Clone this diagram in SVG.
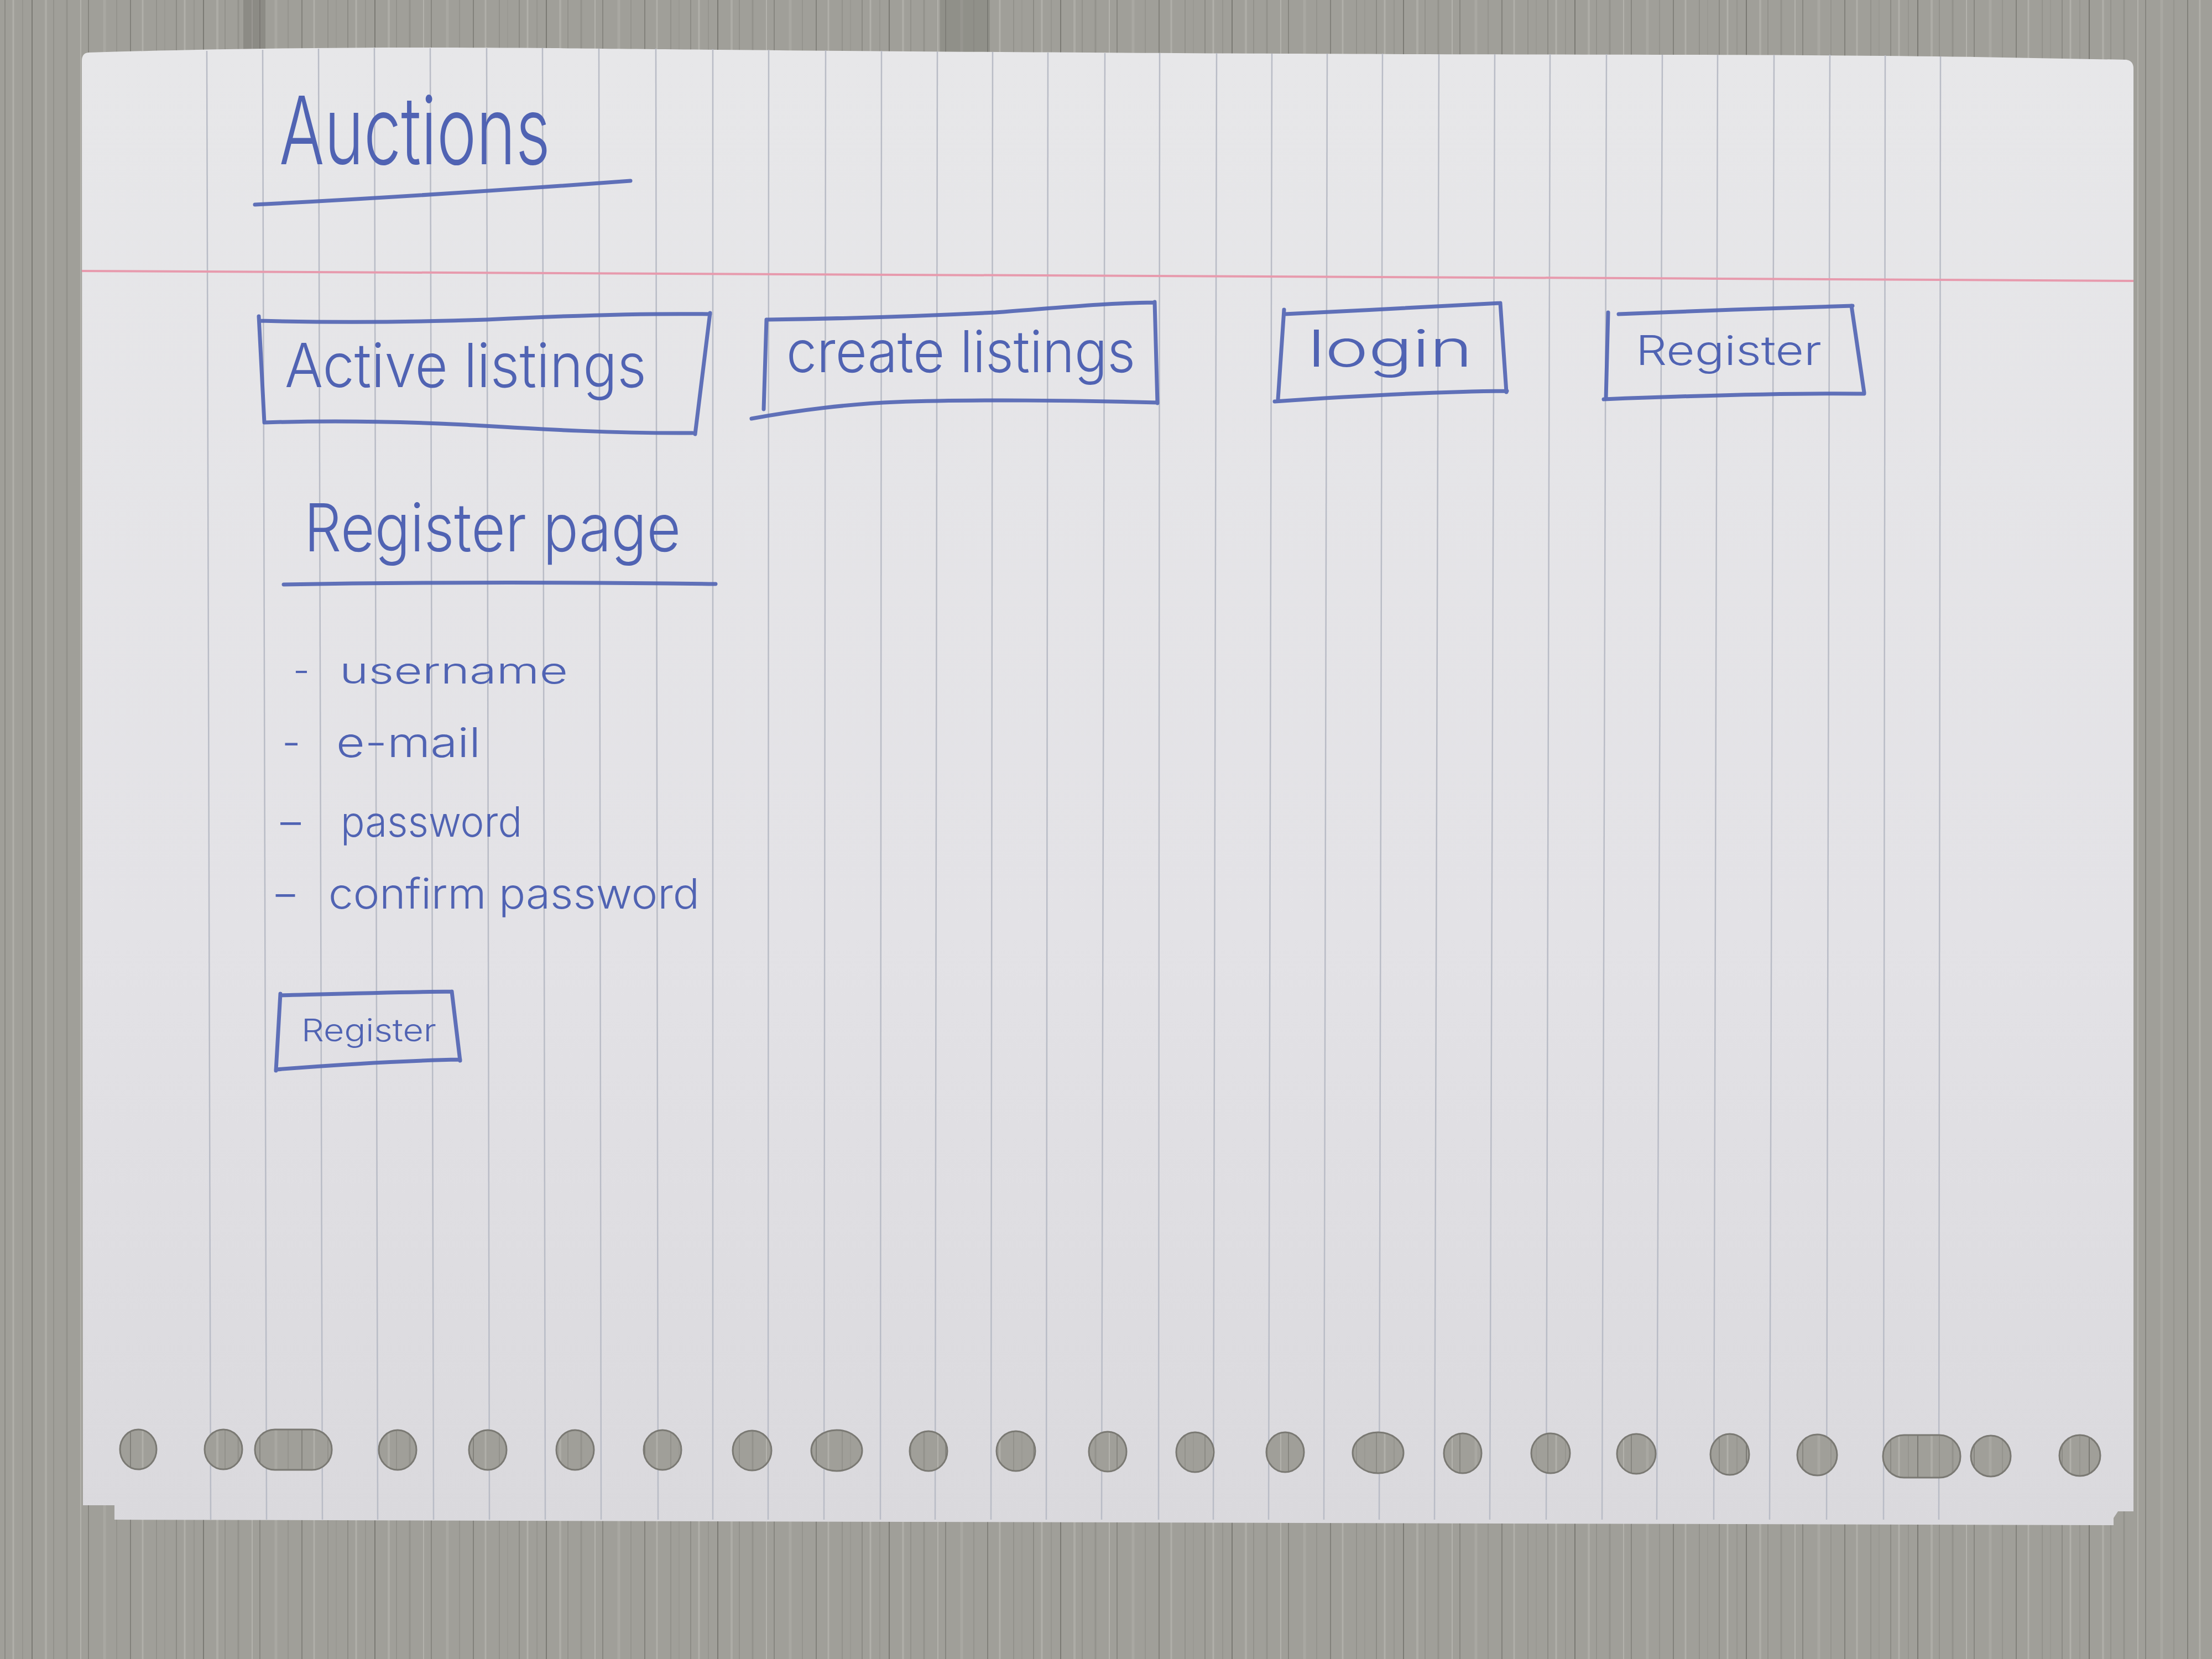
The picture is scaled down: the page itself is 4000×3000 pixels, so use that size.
<svg xmlns="http://www.w3.org/2000/svg" width="4000" height="3000" viewBox="0 0 4000 3000">
  <defs>
    <!-- grey wood grain of the table -->
    <pattern id="wood" x="0" y="0" width="310" height="3000" patternUnits="userSpaceOnUse">
      <rect width="310" height="3000" fill="#a09f99"/>
      <g fill="none">
        <line x1="9" y1="0" x2="9" y2="3000" stroke="#85847e" stroke-width="1.5"/>
        <line x1="24" y1="0" x2="24" y2="3000" stroke="#b1b0aa" stroke-width="3"/>
        <line x1="41" y1="0" x2="41" y2="3000" stroke="#8c8b85" stroke-width="1"/>
        <line x1="58" y1="0" x2="58" y2="3000" stroke="#7b7a74" stroke-width="2"/>
        <line x1="83" y1="0" x2="83" y2="3000" stroke="#adaca6" stroke-width="4"/>
        <line x1="97" y1="0" x2="97" y2="3000" stroke="#878680" stroke-width="1"/>
        <line x1="121" y1="0" x2="121" y2="3000" stroke="#93928c" stroke-width="3"/>
        <line x1="146" y1="0" x2="146" y2="3000" stroke="#b3b2ac" stroke-width="2"/>
        <line x1="160" y1="0" x2="160" y2="3000" stroke="#7e7d77" stroke-width="1.5"/>
        <line x1="189" y1="0" x2="189" y2="3000" stroke="#a9a8a2" stroke-width="5"/>
        <line x1="211" y1="0" x2="211" y2="3000" stroke="#8a8983" stroke-width="1"/>
        <line x1="236" y1="0" x2="236" y2="3000" stroke="#787771" stroke-width="1.5"/>
        <line x1="258" y1="0" x2="258" y2="3000" stroke="#b0afa9" stroke-width="3"/>
        <line x1="283" y1="0" x2="283" y2="3000" stroke="#868580" stroke-width="1"/>
        <line x1="298" y1="0" x2="298" y2="3000" stroke="#9a9993" stroke-width="2"/>
      </g>
    </pattern>
    <linearGradient id="paperShade" x1="0" y1="0" x2="0" y2="1">
      <stop offset="0" stop-color="#e7e7e9"/>
      <stop offset="0.6" stop-color="#e3e2e6"/>
      <stop offset="1" stop-color="#dad9dd"/>
    </linearGradient>
    <style>
      .rule { stroke: #b9bcc6; stroke-width: 2.5; fill: none; }
      .margin { stroke: #e79aad; stroke-width: 4; fill: none; }
      .ink { stroke: #5063b3; stroke-width: 7; fill: none; stroke-linecap: round; stroke-linejoin: round; stroke-opacity: 0.9; }
      .hand { font-family: Inter, "Open Sans", "Liberation Sans", sans-serif; font-weight: 300; fill: #5063b3; }
      .hole { fill: url(#wood); stroke: #7a7973; stroke-width: 3; }
    </style>
  </defs>

  <!-- table -->
  <rect x="0" y="0" width="4000" height="3000" fill="url(#wood)"/>
  <rect x="1700" y="0" width="90" height="110" fill="#6e6d67" opacity="0.3"/>
  <rect x="440" y="0" width="40" height="95" fill="#5f5e58" opacity="0.3"/>

  <!-- sheet of paper -->
  <g id="paper">
    <path d="M160,95 C400,88 638,84 1000,87 C1300,90 1786,95 2551,98 C3000,99 3316,99 3571,103 L3845,108 Q3858,110 3858,124 L3858,2733 L3830,2733 L3822,2745 L3822,2758 L207,2748 L207,2722 L150,2722 L148,110 Q148,96 160,95 Z" fill="url(#paperShade)"/>
    <!-- ruled vertical lines -->
    <g class="rule">
      <line x1="374" y1="92" x2="381" y2="2748"/>
      <line x1="475" y1="90" x2="482" y2="2748"/>
      <line x1="576" y1="88" x2="583" y2="2748"/>
      <line x1="677" y1="87" x2="683" y2="2748"/>
      <line x1="778" y1="87" x2="784" y2="2748"/>
      <line x1="880" y1="87" x2="885" y2="2748"/>
      <line x1="981" y1="87" x2="986" y2="2748"/>
      <line x1="1083" y1="88" x2="1087" y2="2748"/>
      <line x1="1186" y1="88" x2="1190" y2="2748"/>
      <line x1="1289" y1="89" x2="1289" y2="2748"/>
      <line x1="1390" y1="90" x2="1389" y2="2748"/>
      <line x1="1493" y1="91" x2="1490" y2="2748"/>
      <line x1="1594" y1="92" x2="1592" y2="2748"/>
      <line x1="1695" y1="93" x2="1691" y2="2748"/>
      <line x1="1795" y1="94" x2="1792" y2="2748"/>
      <line x1="1895" y1="95" x2="1892" y2="2748"/>
      <line x1="1998" y1="96" x2="1992" y2="2748"/>
      <line x1="2097" y1="96" x2="2095" y2="2748"/>
      <line x1="2200" y1="96" x2="2194" y2="2748"/>
      <line x1="2300" y1="97" x2="2294" y2="2748"/>
      <line x1="2400" y1="97" x2="2394" y2="2748"/>
      <line x1="2500" y1="97" x2="2494" y2="2748"/>
      <line x1="2602" y1="98" x2="2594" y2="2748"/>
      <line x1="2703" y1="98" x2="2694" y2="2748"/>
      <line x1="2803" y1="98" x2="2796" y2="2748"/>
      <line x1="2905" y1="98" x2="2897" y2="2748"/>
      <line x1="3006" y1="99" x2="2996" y2="2748"/>
      <line x1="3106" y1="99" x2="3099" y2="2748"/>
      <line x1="3208" y1="99" x2="3200" y2="2748"/>
      <line x1="3309" y1="99" x2="3303" y2="2748"/>
      <line x1="3409" y1="100" x2="3406" y2="2748"/>
      <line x1="3509" y1="102" x2="3506" y2="2748"/>
    </g>
    <!-- red margin -->
    <path class="margin" d="M148,490 C1000,494 2500,500 3858,508"/>
    <!-- punched holes along the bottom -->
    <g id="holes">
      <ellipse class="hole" cx="250" cy="2621" rx="33" ry="36"/>
      <ellipse class="hole" cx="404" cy="2621" rx="34" ry="36"/>
      <rect class="hole" x="461" y="2585" width="139" height="73" rx="36" ry="36"/>
      <ellipse class="hole" cx="719" cy="2622" rx="34" ry="36"/>
      <ellipse class="hole" cx="882" cy="2622" rx="34" ry="36"/>
      <ellipse class="hole" cx="1040" cy="2622" rx="34" ry="36"/>
      <ellipse class="hole" cx="1198" cy="2622" rx="34" ry="36"/>
      <ellipse class="hole" cx="1360" cy="2623" rx="35" ry="36"/>
      <ellipse class="hole" cx="1513" cy="2623" rx="46" ry="37"/>
      <ellipse class="hole" cx="1679" cy="2624" rx="34" ry="36"/>
      <ellipse class="hole" cx="1837" cy="2624" rx="35" ry="36"/>
      <ellipse class="hole" cx="2003" cy="2625" rx="34" ry="36"/>
      <ellipse class="hole" cx="2161" cy="2626" rx="34" ry="36"/>
      <ellipse class="hole" cx="2324" cy="2626" rx="34" ry="36"/>
      <ellipse class="hole" cx="2492" cy="2627" rx="46" ry="37"/>
      <ellipse class="hole" cx="2645" cy="2628" rx="34" ry="36"/>
      <ellipse class="hole" cx="2804" cy="2628" rx="35" ry="36"/>
      <ellipse class="hole" cx="2959" cy="2629" rx="35" ry="36"/>
      <ellipse class="hole" cx="3128" cy="2630" rx="35" ry="37"/>
      <ellipse class="hole" cx="3286" cy="2631" rx="36" ry="37"/>
      <rect class="hole" x="3405" y="2595" width="140" height="77" rx="38" ry="38"/>
      <ellipse class="hole" cx="3600" cy="2633" rx="36" ry="37"/>
      <ellipse class="hole" cx="3761" cy="2632" rx="37" ry="37"/>
    </g>
  </g>

  <!-- page title -->
  <g id="title">
    <text class="hand" x="505" y="297" font-size="170" textLength="490" lengthAdjust="spacingAndGlyphs">Auctions</text>
    <path class="ink" d="M461,370 C620,362 800,352 1140,327"/>
  </g>

  <!-- navigation bar -->
  <g id="nav-active-listings">
    <path class="ink" d="M470,580 C620,584 760,582 880,578 C1000,572 1150,566 1284,568 M1284,566 L1257,785 M478,764 C600,760 720,762 840,768 C960,775 1100,784 1252,783 M468,572 L478,764"/>
    <text class="hand" x="515" y="700" font-size="110" textLength="654" lengthAdjust="spacingAndGlyphs">Active listings</text>
  </g>
  <g id="nav-create-listings">
    <path class="ink" d="M1387,578 C1550,576 1700,570 1800,565 C1920,556 2000,548 2088,547 M1386,578 L1381,740 M1359,757 C1440,742 1540,730 1620,727 C1760,722 1950,724 2093,728 M2088,546 L2093,729"/>
    <text class="hand" x="1422" y="673" font-size="105" textLength="631" lengthAdjust="spacingAndGlyphs">create listings</text>
  </g>
  <g id="nav-login">
    <path class="ink" d="M2323,568 C2450,562 2600,554 2713,548 M2322,560 L2311,722 M2305,726 C2450,716 2600,708 2725,707 M2713,548 L2724,709"/>
    <text class="hand" x="2365" y="663" font-size="92" textLength="298" lengthAdjust="spacingAndGlyphs">login</text>
  </g>
  <g id="nav-register">
    <path class="ink" d="M2927,568 C3050,563 3230,556 3350,553 M2908,565 L2904,722 M2900,722 C3050,716 3230,710 3371,712 M3348,553 L3371,710"/>
    <text class="hand" x="2958" y="660" font-size="74" textLength="336" lengthAdjust="spacingAndGlyphs">Register</text>
  </g>

  <!-- register page sketch -->
  <g id="register-heading">
    <text class="hand" x="550" y="997" font-size="120" textLength="681" lengthAdjust="spacingAndGlyphs">Register page</text>
    <path class="ink" d="M513,1057 C800,1052 1050,1053 1294,1056"/>
  </g>
  <g id="field-username">
    <text class="hand" y="1236" font-size="66"><tspan x="530">-</tspan><tspan x="614" textLength="413" lengthAdjust="spacingAndGlyphs">username</tspan></text>
  </g>
  <g id="field-email">
    <text class="hand" y="1369" font-size="74"><tspan x="510">-</tspan><tspan x="608" textLength="261" lengthAdjust="spacingAndGlyphs">e-mail</tspan></text>
  </g>
  <g id="field-password">
    <text class="hand" y="1513" font-size="76"><tspan x="498" textLength="55" lengthAdjust="spacingAndGlyphs">-</tspan><tspan x="616" textLength="328" lengthAdjust="spacingAndGlyphs">password</tspan></text>
  </g>
  <g id="field-confirm-password">
    <text class="hand" y="1643" font-size="76"><tspan x="490" textLength="52" lengthAdjust="spacingAndGlyphs">-</tspan><tspan x="594" textLength="671" lengthAdjust="spacingAndGlyphs">confirm password</tspan></text>
  </g>
  <g id="register-button">
    <path class="ink" d="M507,1800 C620,1797 720,1794 817,1793 M507,1797 L499,1936 M499,1934 C600,1926 720,1918 832,1916 M817,1793 L832,1918"/>
    <text class="hand" x="545" y="1883" font-size="56" textLength="244" lengthAdjust="spacingAndGlyphs">Register</text>
  </g>

  <g id="connectors"/>
</svg>
